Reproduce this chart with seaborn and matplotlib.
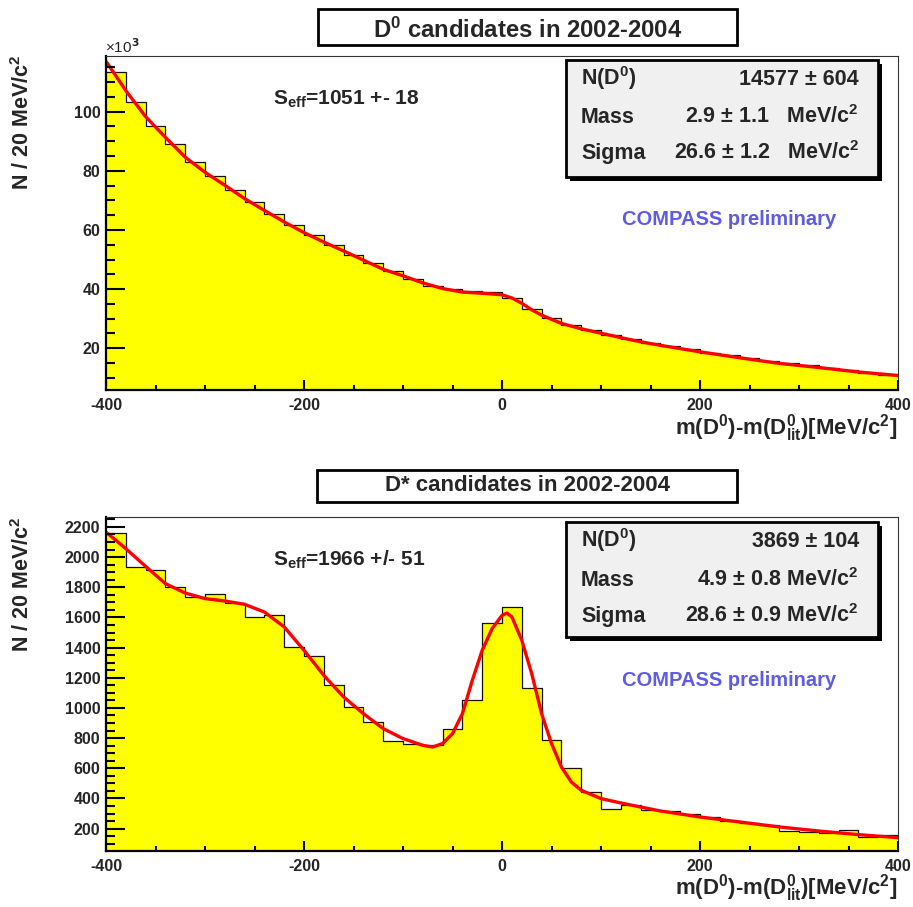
import numpy as np
import pandas as pd
import matplotlib
matplotlib.use("Agg")
import matplotlib.pyplot as plt
from matplotlib.patches import Rectangle
from matplotlib.ticker import MultipleLocator
import seaborn as sns

# binning of both histograms: 40 bins of 20 MeV/c^2
bin_edges = list(range(-400, 401, 20))

# D0 sample, entries per bin (x 10^3)
d0_counts = [113.3, 103.4, 95.1, 88.9, 82.9, 78.3, 73.6, 69.4, 65.4, 61.8,
             58.2, 54.9, 51.6, 48.8, 46.1, 43.5, 41.1, 39.9, 39.2, 38.9,
             37.0, 33.4, 30.1, 28.0, 26.2, 24.4, 23.0, 21.9, 20.8, 19.6,
             18.5, 17.6, 16.6, 15.7, 15.0, 14.2, 13.2, 12.5, 11.8, 11.0]
d0_fit_x = [-400, -380, -360, -340, -320, -300, -280, -260, -240, -220,
            -200, -180, -160, -140, -120, -100, -80, -60, -40, -20,
            0, 10, 20, 30, 40, 60, 80, 100, 120, 140,
            160, 180, 200, 240, 280, 320, 360, 400]
d0_fit_y = [117.0, 107.1, 98.3, 91.3, 84.6, 79.5, 75.1, 70.6, 66.6, 62.7,
            59.1, 55.9, 52.9, 49.8, 46.7, 44.5, 42.1, 40.2, 39.0, 38.6,
            38.1, 37.0, 35.2, 33.0, 31.2, 28.4, 26.6, 25.1, 23.6, 22.2,
            21.0, 19.9, 18.8, 16.8, 14.9, 13.5, 12.0, 10.8]

# D* tagged sample, entries per bin
dstar_counts = [2162, 1937, 1915, 1802, 1733, 1755, 1698, 1606, 1619, 1407,
                1344, 1155, 1006, 909, 781, 761, 756, 858, 1055, 1566,
                1667, 1135, 785, 600, 443, 333, 357, 326, 317, 299,
                277, 250, 238, 222, 187, 178, 172, 189, 145, 156]
dstar_fit_x = [-400, -380, -360, -340, -320, -300, -280, -260, -240, -220,
               -200, -180, -160, -140, -120, -100, -80, -70, -60, -50,
               -40, -30, -20, -10, 0, 5, 10, 20, 30, 40,
               50, 60, 70, 80, 100, 120, 140, 160, 200, 240,
               280, 320, 360, 400]
dstar_fit_y = [2166, 2056, 1939, 1824, 1762, 1725, 1709, 1687, 1636, 1537,
               1382, 1216, 1073, 962, 863, 797, 752, 741, 764, 830,
               962, 1183, 1382, 1526, 1614, 1629, 1603, 1448, 1228, 962,
               764, 608, 509, 454, 399, 370, 343, 317, 277, 244,
               211, 184, 160, 140]

sns.set_style("white")
plt.rcParams["font.family"] = ["Liberation Sans", "DejaVu Sans"]
plt.rcParams["font.weight"] = "bold"
plt.rcParams["mathtext.fontset"] = "custom"
plt.rcParams["mathtext.rm"] = "Liberation Sans:bold"
plt.rcParams["mathtext.it"] = "Liberation Sans:bold"
plt.rcParams["mathtext.bf"] = "Liberation Sans:bold"
plt.rcParams["mathtext.default"] = "rm"
plt.rcParams["axes.unicode_minus"] = False

W, H = 913, 907
fig = plt.figure(figsize=(W / 100, H / 100), dpi=100)


def fx(x):
    return x / W


def fy(y):
    return 1 - y / H


def box(x0, y0, x1, y1, face, lw=1.5, shadow=0):
    if shadow:
        fig.add_artist(Rectangle((fx(x0 + shadow), fy(y1 + shadow)), (x1 - x0) / W, (y1 - y0) / H,
                                 transform=fig.transFigure, facecolor="black", edgecolor="black",
                                 lw=0, zorder=1))
    fig.add_artist(Rectangle((fx(x0), fy(y1)), (x1 - x0) / W, (y1 - y0) / H,
                             transform=fig.transFigure, facecolor=face, edgecolor="black",
                             lw=lw, zorder=1.5))


def panel(top, counts, fit_x, fit_y, ylim, major, minor):
    ax = fig.add_axes([fx(106), fy(top + 334), 792 / W, 334 / H])
    edges = np.array(bin_edges)
    df = pd.DataFrame({"mass": (edges[:-1] + edges[1:]) / 2, "n": counts})
    sns.histplot(data=df, x="mass", weights="n", bins=bin_edges, element="step", fill=True,
                 color="#ffff00", alpha=1, linewidth=0, ax=ax)
    sns.histplot(data=df, x="mass", weights="n", bins=bin_edges, element="step", fill=False,
                 color="#111111", linewidth=0.9, ax=ax)
    sns.lineplot(x=fit_x, y=fit_y, color="#ff0000", linewidth=2.4, estimator=None, ax=ax)
    ax.set_axisbelow(False)
    ax.set_xlim(-400, 400)
    ax.set_ylim(*ylim)
    ax.set_xlabel("")
    ax.set_ylabel("")
    ax.set_xticks([-400, -200, 0, 200, 400])
    ax.xaxis.set_minor_locator(MultipleLocator(50))
    ax.yaxis.set_major_locator(MultipleLocator(major))
    ax.yaxis.set_minor_locator(MultipleLocator(minor))
    ax.tick_params(which="both", bottom=True, left=True, top=False, right=False,
                   direction="in", width=1.5, color="black")
    ax.tick_params(axis="x", which="major", length=7.2, labelsize=11.5, pad=6)
    ax.tick_params(axis="x", which="minor", length=3.6)
    ax.tick_params(axis="y", which="major", length=13.7, labelsize=11.5, pad=4)
    ax.tick_params(axis="y", which="minor", length=6.8)
    for side in ["left", "bottom"]:
        ax.spines[side].set_linewidth(1.6)
        ax.spines[side].set_color("black")
    for side in ["top", "right"]:
        ax.spines[side].set_linewidth(0.8)
        ax.spines[side].set_color("#333333")
    return ax


ylabel = "N / 20 MeV/c$^2$"
xlabel = "m(D$^0$)-m(D$^0_{lit}$)[MeV/c$^2$]"

# ---- upper panel: D0 candidates
panel(56, d0_counts, d0_fit_x, d0_fit_y, (5.9, 118.8), 20, 5)
fig.text(fx(105), fy(53), "×10$^3$", fontsize=11, fontweight="normal", ha="left", va="baseline",
         math_fontfamily="dejavusans")
fig.text(fx(22.5), fy(55), ylabel, fontsize=15.5, rotation=90, ha="center", va="top")
fig.text(fx(897), fy(435), xlabel, fontsize=16, ha="right", va="baseline")
box(318, 9, 737, 45, "white", lw=2)
fig.text(fx(527.5), fy(37.5), "D$^0$ candidates in 2002-2004", fontsize=17.2,
         ha="center", va="baseline", zorder=3)
fig.text(fx(272.7), fy(105), "S$_{eff}$=1051 +- 18", fontsize=15, ha="left", va="baseline")
box(566, 60, 878, 177, "#f0f0f0", lw=2, shadow=4)
for label, value, base in [("N(D$^0$)", "14577 ± 604", 85),
                           ("Mass", "2.9 ± 1.1   MeV/c$^2$", 123.3),
                           ("Sigma", "26.6 ± 1.2   MeV/c$^2$", 159)]:
    fig.text(fx(581), fy(base), label, fontsize=15.5, ha="left", va="baseline", zorder=3)
    fig.text(fx(859), fy(base), value, fontsize=15.5, ha="right", va="baseline", zorder=3)
fig.text(fx(728.7), fy(225), "COMPASS preliminary", fontsize=14.5, color="#5c5ce6",
         ha="center", va="baseline")

# ---- lower panel: D* tagged candidates
panel(517, dstar_counts, dstar_fit_x, dstar_fit_y, (51.5, 2266), 200, 50)
fig.text(fx(22.5), fy(517), ylabel, fontsize=15.5, rotation=90, ha="center", va="top")
fig.text(fx(897), fy(895), xlabel, fontsize=16, ha="right", va="baseline")
box(317, 470, 737, 502, "white", lw=2)
fig.text(fx(527), fy(491), "D* candidates in 2002-2004", fontsize=16,
         ha="center", va="baseline", zorder=3)
fig.text(fx(272.7), fy(566), "S$_{eff}$=1966 +/- 51", fontsize=15, ha="left", va="baseline")
box(566, 522, 878, 637, "#f0f0f0", lw=2, shadow=4)
for label, value, base in [("N(D$^0$)", "3869 ± 104", 546.7),
                           ("Mass", "4.9 ± 0.8 MeV/c$^2$", 586),
                           ("Sigma", "28.6 ± 0.9 MeV/c$^2$", 622)]:
    fig.text(fx(581), fy(base), label, fontsize=15.5, ha="left", va="baseline", zorder=3)
    fig.text(fx(859), fy(base), value, fontsize=15.5, ha="right", va="baseline", zorder=3)
fig.text(fx(728.7), fy(685.7), "COMPASS preliminary", fontsize=14.5, color="#5c5ce6",
         ha="center", va="baseline")

fig.savefig("out.png", dpi=100)
